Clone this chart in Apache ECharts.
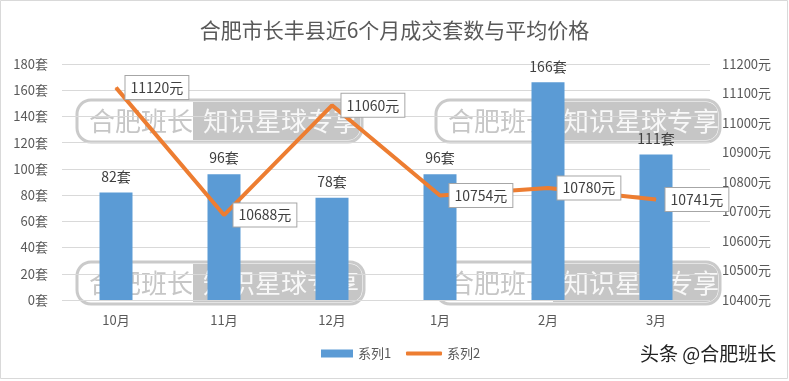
<!DOCTYPE html>
<html>
<head>
<meta charset="utf-8">
<script src="https://cdn.jsdelivr.net/npm/echarts@6/dist/echarts.min.js"></script>
<style>
  html, body { margin: 0; padding: 0; background: #fff; }
  #main { width: 789px; height: 381px; }
</style>
</head>
<body>
<div id="main"></div>
<script>
var months = ['10月', '11月', '12月', '1月', '2月', '3月'];
var deals = [82, 96, 78, 96, 166, 111];
var prices = [11120, 10688, 11060, 10754, 10780, 10741];

var font = '"Noto Sans CJK SC", "Microsoft YaHei", sans-serif';

// watermark box: left part light, right part gray
function mark(x, y, w, split) {
    var h = 42;
    return {
        type: 'group',
        z: 100,
        children: [
            { type: 'rect', shape: { x: x, y: y, width: w, height: h, r: 14 },
              style: { fill: 'rgba(255,255,255,0.3)', stroke: 'rgba(150,150,150,0.5)', lineWidth: 3 } },
            { type: 'rect', shape: { x: split, y: y + 2, width: x + w - split - 2, height: h - 4, r: [0, 12, 12, 0] },
              style: { fill: 'rgba(120,120,120,0.42)' } },
            { type: 'text', x: x + 12, y: y + h / 2,
              style: { text: '合肥班长', font: '26px ' + font, fill: 'rgba(160,160,160,0.6)', textVerticalAlign: 'middle' } },
            { type: 'text', x: split + 10, y: y + h / 2,
              style: { text: '知识星球专享', font: '26px ' + font, fill: 'rgba(255,255,255,0.88)', textVerticalAlign: 'middle' } }
        ]
    };
}

var legendText = { fontFamily: font, fontSize: 13, color: '#595959' };

var option = {
    backgroundColor: '#fff',
    animation: false,
    title: {
        text: '合肥市长丰县近6个月成交套数与平均价格',
        left: 'center',
        top: 15,
        textStyle: { fontFamily: font, fontSize: 21, fontWeight: 'normal', color: '#595959' }
    },
    legend: [{
        bottom: 16, left: 316,
        itemWidth: 32, itemHeight: 8,
        textStyle: legendText,
        data: [{ name: '系列1', icon: 'rect' }]
    }, {
        bottom: 16, left: 401,
        itemWidth: 36, itemHeight: 4,
        textStyle: legendText,
        data: [{ name: '系列2', icon: 'roundRect', itemStyle: { color: '#ed7d31' } }]
    }],
    grid: { left: 62, right: 79, top: 64, bottom: 81 },
    xAxis: {
        type: 'category',
        data: months,
        axisLine: { show: false },
        axisTick: { show: false },
        axisLabel: { fontFamily: font, fontSize: 13, color: '#595959', margin: 14 }
    },
    yAxis: [{
        type: 'value',
        min: 0, max: 180, interval: 20,
        axisLine: { show: false },
        axisTick: { show: false },
        splitLine: { lineStyle: { color: '#d9d9d9' } },
        axisLabel: { formatter: '{value}套', fontFamily: font, fontSize: 13, color: '#595959', margin: 14 }
    }, {
        type: 'value',
        min: 10400, max: 11200, interval: 100,
        axisLine: { show: false },
        axisTick: { show: false },
        splitLine: { show: false },
        axisLabel: {
            formatter: function (v) { return v + '元'; },
            fontFamily: font, fontSize: 13, color: '#595959', margin: 12
        }
    }],
    series: [{
        name: '系列1',
        type: 'bar',
        data: deals,
        barWidth: 33,
        itemStyle: { color: '#5b9bd5' },
        label: {
            show: true, position: 'top', distance: 9,
            formatter: '{c}套', fontFamily: font, fontSize: 14, color: '#404040'
        }
    }, {
        name: '系列2',
        type: 'line',
        yAxisIndex: 1,
        data: prices,
        symbol: 'circle',
        symbolSize: 1,
        itemStyle: { color: '#ed7d31' },
        lineStyle: { color: '#ed7d31', width: 4 },
        label: {
            show: true, position: 'right', distance: 9,
            formatter: '{c}元', fontFamily: font, fontSize: 14, color: '#404040',
            backgroundColor: '#fff', borderColor: '#a6a6a6', borderWidth: 1,
            padding: [5, 5, 4, 5]
        }
    }],
    graphic: [
        { type: 'rect', shape: { x: 0.5, y: 0.5, width: 787, height: 378 },
          style: { fill: 'none', stroke: '#d9d9d9', lineWidth: 1 }, z: 0 },
        mark(77, 100, 285, 193),
        mark(436, 100, 284, 553),
        mark(77, 262, 287, 193),
        mark(436, 262, 284, 553),
        { type: 'text', left: 640, top: 344, z: 100,
          style: { text: '头条 @合肥班长', font: '19px ' + font, fill: '#222' } }
    ]
};

var myChart = echarts.init(document.getElementById('main'));
myChart.setOption(option);
</script>
</body>
</html>
